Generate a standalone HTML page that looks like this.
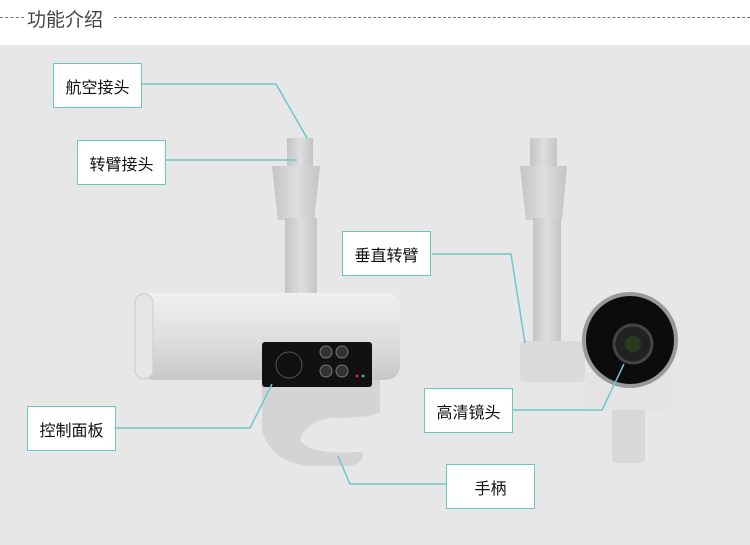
<!DOCTYPE html>
<html><head><meta charset="utf-8"><style>
body{margin:0;width:750px;height:545px;overflow:hidden;background:#fff;font-family:"Liberation Sans","Noto Sans CJK SC",sans-serif;position:relative}
.bg{position:absolute;left:0;top:45px;width:750px;height:500px;background:#e7e7e7}
.t{position:absolute;left:27px;top:5px;font-size:19px;color:#444}
.dash{position:absolute;top:17px;border-top:1px dashed #777}
.box{position:absolute;width:87px;height:43px;border:1.5px solid #6cc6c6;background:#fff;font-size:16px;color:#111;display:flex;align-items:center;justify-content:center}
svg{position:absolute;left:0;top:0}
</style></head><body>
<div class="bg"></div>
<div class="dash" style="left:0;width:24px"></div>
<div class="t">功能介绍</div>
<div class="dash" style="left:114px;width:636px"></div>
<svg width="750" height="545">
<defs>
<linearGradient id="g" x1="0" y1="0" x2="0" y2="1"><stop offset="0" stop-color="#f0f0f0"/><stop offset=".5" stop-color="#e0e0e0"/><stop offset="1" stop-color="#c8c8c8"/></linearGradient>
<linearGradient id="h" x1="0" y1="0" x2="1" y2="0"><stop offset="0" stop-color="#c4c4c4"/><stop offset=".5" stop-color="#dedede"/><stop offset="1" stop-color="#c4c4c4"/></linearGradient>
</defs>
<rect x="287" y="138" width="26" height="28" fill="url(#h)"/>
<polygon points="272,166 320,166 314,220 278,220" fill="url(#h)"/>
<rect x="285" y="218" width="32" height="80" fill="url(#h)"/>
<path d="M262,380 L380,380 L380,412 Q372,418 330,418 Q305,422 300,440 Q310,455 355,452 L362,452 Q366,462 350,466 L310,466 Q270,462 262,430 Z" fill="#d4d4d4"/>
<rect x="140" y="293" width="260" height="87" rx="14" fill="url(#g)"/>
<rect x="135" y="294" width="18" height="85" rx="9" fill="#e6e6e6" stroke="#ccc" stroke-width="1"/>
<rect x="262" y="342" width="110" height="45" rx="3" fill="#111"/>
<circle cx="289" cy="365" r="13" fill="none" stroke="#555"/>
<circle cx="326" cy="352" r="6" fill="#333" stroke="#777"/><circle cx="342" cy="352" r="6" fill="#333" stroke="#777"/>
<circle cx="326" cy="371" r="6" fill="#333" stroke="#777"/><circle cx="342" cy="371" r="6" fill="#333" stroke="#777"/>
<circle cx="357" cy="376" r="1.5" fill="#d22"/><circle cx="363" cy="376" r="1.5" fill="#4a8"/>
<rect x="530" y="138" width="27" height="28" fill="url(#h)"/>
<polygon points="520,166 567,166 562,220 526,220" fill="url(#h)"/>
<rect x="533" y="218" width="28" height="128" fill="url(#h)"/>
<rect x="520" y="341" width="65" height="41" rx="4" fill="#dadada"/>
<rect x="612" y="405" width="33" height="58" rx="4" fill="#d8d8d8"/>
<rect x="585" y="372" width="88" height="38" rx="5" fill="#e4e4e4"/>
<circle cx="630" cy="340" r="48" fill="#999"/>
<circle cx="630" cy="340" r="44" fill="#0c0c0c"/>
<circle cx="633" cy="344" r="19" fill="#222" stroke="#444" stroke-width="3"/>
<circle cx="633" cy="344" r="8" fill="#2a3a20"/>
<g stroke="#6cc8c8" stroke-width="1.5" fill="none">
<polyline points="142,84 276,84 307,138"/>
<polyline points="166,160 297,160"/>
<polyline points="432,254 511,254 525,343"/>
<polyline points="115,428 250,428 272,384"/>
<polyline points="513,410 602,410 624,364"/>
<polyline points="446,484 350,484 338,456"/>
</g>
</svg>
<div class="box" style="left:53px;top:63px">航空接头</div>
<div class="box" style="left:77px;top:140px">转臂接头</div>
<div class="box" style="left:342px;top:231px">垂直转臂</div>
<div class="box" style="left:27px;top:406px">控制面板</div>
<div class="box" style="left:424px;top:388px">高清镜头</div>
<div class="box" style="left:446px;top:464px">手柄</div>
</body></html>
